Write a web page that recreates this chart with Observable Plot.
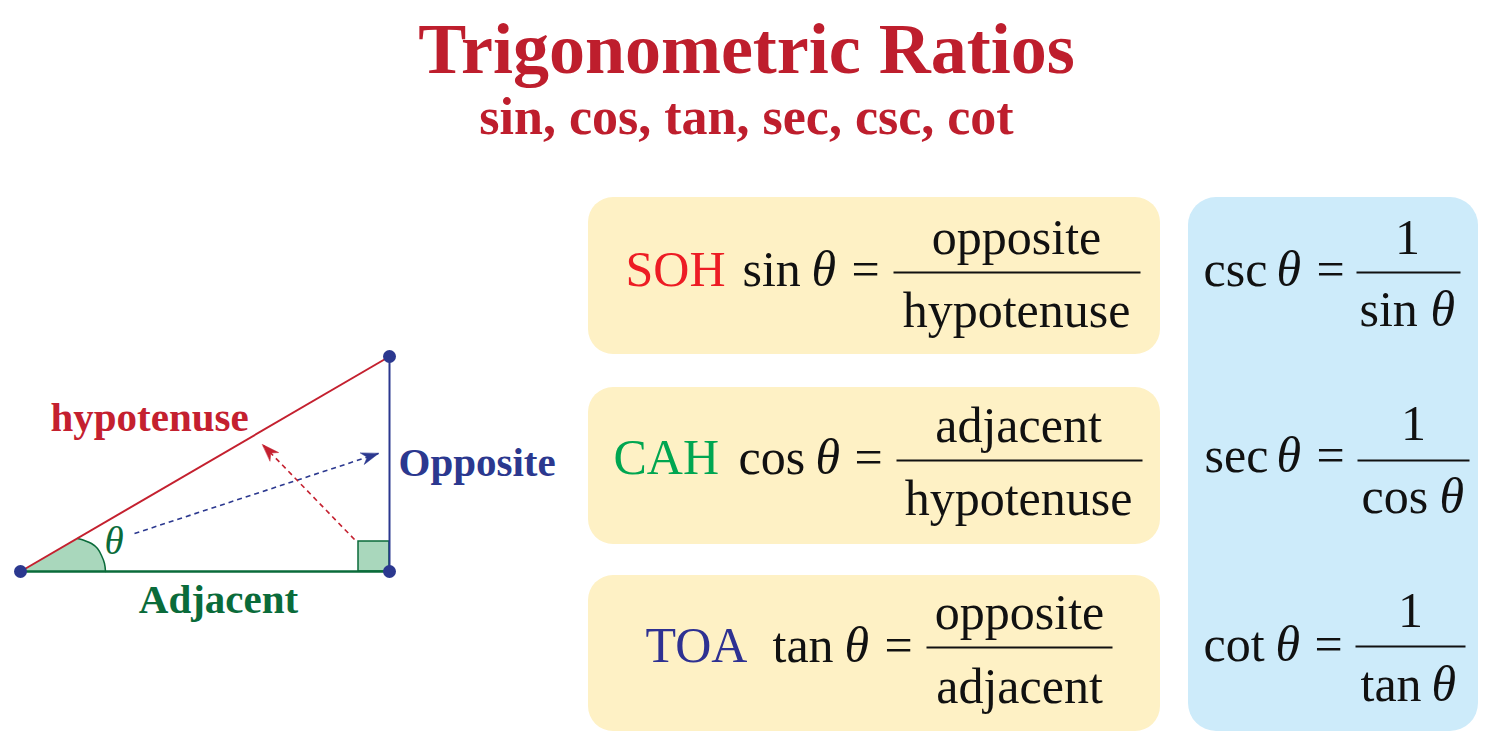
<!DOCTYPE html>
<html>
<head>
<meta charset="utf-8">
<script src="https://cdn.jsdelivr.net/npm/d3@7"></script>
<script src="https://cdn.jsdelivr.net/npm/@observablehq/plot@0.6"></script>
<style>
  html, body { margin: 0; padding: 0; background: #fff; }
  #chart svg { display: block; }
</style>
</head>
<body>
<div id="chart"></div>
<script>
// ---------------- content ----------------
const title = "Trigonometric Ratios";
const subtitle = "sin, cos, tan, sec, csc, cot";
const angleSymbol = "θ";
const sideNames = ["hypotenuse", "Opposite", "Adjacent"];
const mnemonics = ["SOH", "CAH", "TOA"];
const ratioFns = ["sin", "cos", "tan"];
const numerators = ["opposite", "adjacent", "opposite"];
const denominators = ["hypotenuse", "hypotenuse", "adjacent"];
const reciprocalFns = ["csc", "sec", "cot"];
const reciprocalNumerators = ["1", "1", "1"];
const reciprocalOf = ["sin", "cos", "tan"];

// ---------------- triangle geometry (diagram units) ----------------
const vertexX = [20, 389, 389];   // A (angle θ), B (right angle), C (top)
const vertexY = [571, 571, 356];
const arcX = [77, 84, 91, 97, 101, 104, 105];       // angle marker arc
const arcY = [538, 540, 543, 548, 555, 563, 571];
const arrowFromX = [134, 354], arrowFromY = [533, 539];
const arrowToX = [378, 262], arrowToY = [453, 444];

// ---------------- layout ----------------
const W = 1492, H = 748;
const serif = "Liberation Serif, Times New Roman, serif";
const C = {
  title: "#BE1E2D", hyp: "#C4202F", navy: "#2B388F", green: "#0A6B3A",
  lightGreen: "#A9D7BC", soh: "#ED1C24", cah: "#00A651", toa: "#2E3192",
  yellow: "#FEF1C5", blue: "#CDEBFA", ink: "#111"
};
const boxY1 = [197, 387, 575], boxY2 = [354, 544, 731];
const rowBase = [285, 473, 661], rowLine = [272, 460, 647];
const numBase = [253, 441, 628], denBase = [326, 514, 702];
const mnX = [625, 613, 645], fnX = [742, 738, 772], thX = [811, 815, 844], eqX = [851, 854, 884];
const lineX1 = [893, 896, 926], lineX2 = [1140, 1142, 1112], fracCX = [1016, 1018, 1019];
const rBase = [285, 471, 660], rLine = [272, 460, 646], oneBase = [253, 439, 626], rDenBase = [325, 512, 700];
const rFnX = [1203, 1204, 1203], rThX = [1276, 1276, 1275], rEqX = [1316, 1316, 1314];
const rLineX1 = [1356, 1357, 1355], rLineX2 = [1460, 1469, 1465], oneCX = [1407, 1413, 1410];
const rDenFnX = [1359, 1361, 1360], rDenThX = [1430, 1439, 1431];

const idx = [0, 1, 2];
const at = arr => (d, i) => arr[i];

// arrowhead shape for Plot.vector (stealth)
const stealth = {
  draw(ctx, l, r) {
    ctx.moveTo(0, -l);
    ctx.lineTo(r, 0);
    ctx.lineTo(0, -0.3 * l);
    ctx.lineTo(-r, 0);
    ctx.closePath();
  }
};
const arrowRot = idx.slice(0, 2).map(i =>
  Math.atan2(arrowToX[i] - arrowFromX[i], -(arrowToY[i] - arrowFromY[i])) * 180 / Math.PI);
const arrowColors = [C.navy, C.hyp];

const sector = [{x: vertexX[0], y: vertexY[0]}, ...arcX.map((x, i) => ({x, y: arcY[i]}))];
const arcPts = arcX.map((x, i) => ({x, y: arcY[i]}));
const vertices = vertexX.map((x, i) => ({x, y: vertexY[i]}));

const txt = (data, o) => Plot.text(data, {lineAnchor: "bottom", fontFamily: serif, ...o});

const marks = [
  // title
  txt([title], {x: 746, y: 72, fontSize: 72, fontWeight: "bold", fill: C.title, textAnchor: "middle"}),
  txt([subtitle], {x: 746, y: 133, fontSize: 52, fontWeight: "bold", fill: C.title, textAnchor: "middle"}),

  // boxes
  Plot.rect(idx, {x1: 588, x2: 1160, y1: at(boxY1), y2: at(boxY2), rx: 25, fill: C.yellow}),
  Plot.rect([0], {x1: 1188, x2: 1478, y1: 197, y2: 731, rx: 28, fill: C.blue}),

  // triangle: angle marker & right-angle square
  Plot.line(sector, {x: "x", y: "y", fill: C.lightGreen, stroke: "none"}),
  Plot.line(arcPts, {x: "x", y: "y", stroke: C.green, strokeWidth: 1.5, curve: "catmull-rom"}),
  Plot.rect([0], {x1: 358, x2: vertexX[1], y1: 541, y2: vertexY[1], fill: C.lightGreen, stroke: C.green, strokeWidth: 1.5}),

  // sides
  Plot.link([0], {x1: vertexX[0], y1: vertexY[0], x2: vertexX[2], y2: vertexY[2], stroke: C.hyp, strokeWidth: 2}),
  Plot.link([0], {x1: vertexX[1], y1: vertexY[1], x2: vertexX[2], y2: vertexY[2], stroke: C.navy, strokeWidth: 2}),
  Plot.link([0], {x1: vertexX[0], y1: vertexY[0], x2: vertexX[1], y2: vertexY[1], stroke: C.green, strokeWidth: 2.5}),

  // dashed arrows
  ...[0, 1].map(i => Plot.link([0], {
    x1: arrowFromX[i], y1: arrowFromY[i], x2: arrowToX[i], y2: arrowToY[i],
    stroke: arrowColors[i], strokeWidth: 1.6, strokeDasharray: "5,4"
  })),
  ...[0, 1].map(i => Plot.vector([0], {
    x: arrowToX[i], y: arrowToY[i], rotate: arrowRot[i], length: 17, r: 6,
    anchor: "end", shape: stealth, fill: arrowColors[i], stroke: arrowColors[i], strokeWidth: 0.5
  })),

  // vertices
  Plot.dot(vertices, {x: "x", y: "y", r: 6.5, fill: C.navy}),

  // triangle labels
  txt([sideNames[0]], {x: 50, y: 430, fontSize: 41, fontWeight: "bold", fill: C.hyp, textAnchor: "start"}),
  txt([sideNames[1]], {x: 398, y: 475, fontSize: 41, fontWeight: "bold", fill: C.navy, textAnchor: "start"}),
  txt([sideNames[2]], {x: 218, y: 612, fontSize: 41, fontWeight: "bold", fill: C.green, textAnchor: "middle"}),
  txt([angleSymbol], {x: 104, y: 553, fontSize: 39, fontStyle: "italic", fill: C.green, textAnchor: "start"}),

  // SOH CAH TOA formulas
  txt(mnemonics, {x: at(mnX), y: at(rowBase), fontSize: 50, fill: at([C.soh, C.cah, C.toa]), textAnchor: "start"}),
  txt(ratioFns, {x: at(fnX), y: at(rowBase), fontSize: 50, fill: C.ink, textAnchor: "start"}),
  txt(idx.map(() => angleSymbol), {x: at(thX), y: at(rowBase), fontSize: 50, fontStyle: "italic", fill: C.ink, textAnchor: "start"}),
  txt(idx.map(() => "="), {x: at(eqX), y: at(rowBase), fontSize: 50, fill: C.ink, textAnchor: "start"}),
  Plot.link(idx, {x1: at(lineX1), x2: at(lineX2), y1: at(rowLine), y2: at(rowLine), stroke: C.ink, strokeWidth: 2}),
  txt(numerators, {x: at(fracCX), y: at(numBase), fontSize: 50, fill: C.ink, textAnchor: "middle"}),
  txt(denominators, {x: at(fracCX), y: at(denBase), fontSize: 50, fill: C.ink, textAnchor: "middle"}),

  // reciprocal formulas
  txt(reciprocalFns, {x: at(rFnX), y: at(rBase), fontSize: 50, fill: C.ink, textAnchor: "start"}),
  txt(idx.map(() => angleSymbol), {x: at(rThX), y: at(rBase), fontSize: 50, fontStyle: "italic", fill: C.ink, textAnchor: "start"}),
  txt(idx.map(() => "="), {x: at(rEqX), y: at(rBase), fontSize: 50, fill: C.ink, textAnchor: "start"}),
  Plot.link(idx, {x1: at(rLineX1), x2: at(rLineX2), y1: at(rLine), y2: at(rLine), stroke: C.ink, strokeWidth: 2}),
  txt(reciprocalNumerators, {x: at(oneCX), y: at(oneBase), fontSize: 50, fill: C.ink, textAnchor: "middle"}),
  txt(reciprocalOf, {x: at(rDenFnX), y: at(rDenBase), fontSize: 50, fill: C.ink, textAnchor: "start"}),
  txt(idx.map(() => angleSymbol), {x: at(rDenThX), y: at(rDenBase), fontSize: 50, fontStyle: "italic", fill: C.ink, textAnchor: "start"})
];

const chart = Plot.plot({
  width: W, height: H, margin: 0,
  x: {domain: [0, W], range: [0, W], axis: null},
  y: {domain: [0, H], range: [0, H], axis: null},
  style: {fontFamily: serif, background: "#fff"},
  marks
});
document.getElementById("chart").append(chart);
</script>
</body>
</html>
